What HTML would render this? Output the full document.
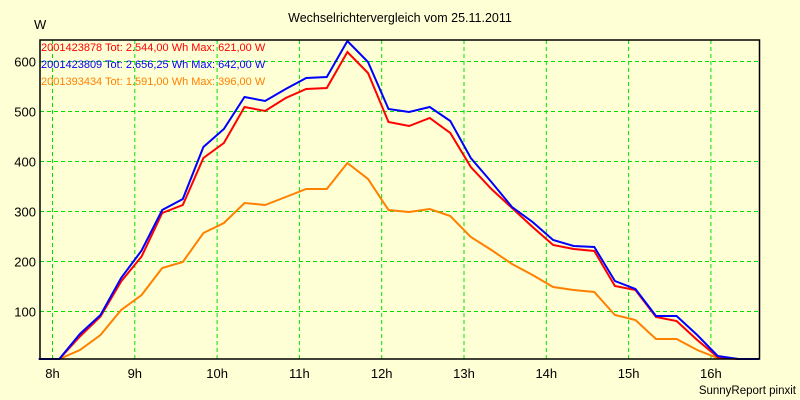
<!DOCTYPE html>
<html><head><meta charset="utf-8"><style>
body{margin:0;background:#ffffd6;}
svg{display:block;font-family:"Liberation Sans",sans-serif;}
</style></head><body>
<svg id="chart" width="800" height="400" viewBox="0 0 800 400">
<rect x="0" y="0" width="800" height="400" fill="#ffffd6"/>
<text x="400" y="22" text-anchor="middle" font-size="12.5" fill="#000">Wechselrichtervergleich vom 25.11.2011</text>
<text x="34" y="29" font-size="13" fill="#000">W</text>
<g id="grid"></g>
<g id="series"></g>
<rect x="40" y="40" width="719.5" height="319" fill="none" stroke="#000" stroke-width="1.5"/>
<g id="axes"></g>
<g font-size="11">
<text x="41" y="51" fill="#ff0000">2001423878 Tot: 2.544,00 Wh Max: 621,00 W</text>
<text x="41" y="68" fill="#0000ff">2001423809 Tot: 2.656,25 Wh Max: 642,00 W</text>
<text x="41" y="85" fill="#ff8000">2001393434 Tot: 1.591,00 Wh Max: 396,00 W</text>
</g>
<text x="796" y="394" text-anchor="end" font-size="11.5" fill="#000">SunnyReport pinxit</text>
</svg>
<script>
const startHour = 7.833;
const stepHours = 0.25;
const redValues = [3,5,50,90,160,210,297,313,407,437,509,501,527,545,547,619,577,479,471,487,457,389,345,307,269,233,225,221,151,143,89,81,43,9,3,3];
const blueValues = [3,5,55,93,167,222,303,325,429,465,529,521,545,567,569,641,599,505,499,509,481,407,359,309,279,243,231,229,161,145,91,91,53,11,5,5];
const orangeValues = [3,5,23,53,103,133,187,199,257,277,317,313,329,345,345,397,365,303,299,305,291,249,223,195,173,149,143,139,93,83,45,45,23,7,3,3];
const yTicks = [100,200,300,400,500,600];
const xTicks = [8,9,10,11,12,13,14,15,16];
const xTickLabels = ["8h","9h","10h","11h","12h","13h","14h","15h","16h"];

const NS = "http://www.w3.org/2000/svg";
function xScale(h){ return 52.5 + (h - 8) * 82.3; }
function yScale(v){ return 361.5 - v * 0.5; }
const grid = document.getElementById('grid');
const axes = document.getElementById('axes');
const series = document.getElementById('series');

yTicks.forEach(function(v){
  const l = document.createElementNS(NS,'line');
  
  
  l.setAttribute('x1',40); l.setAttribute('x2',759.5);
  l.setAttribute('y1',yScale(v)); l.setAttribute('y2',yScale(v));
  l.setAttribute('stroke','#00e000'); l.setAttribute('stroke-dasharray','4,3');
  grid.appendChild(l);
  const t = document.createElementNS(NS,'text');
  
  
  t.setAttribute('x',36); t.setAttribute('y',yScale(v)+5);
  t.setAttribute('text-anchor','end'); t.setAttribute('font-size','13');
  t.textContent = v;
  axes.appendChild(t);
});
xTicks.forEach(function(h,i){
  const l = document.createElementNS(NS,'line');
  
  
  l.setAttribute('x1',xScale(h)); l.setAttribute('x2',xScale(h));
  l.setAttribute('y1',40); l.setAttribute('y2',359);
  l.setAttribute('stroke','#00e000'); l.setAttribute('stroke-dasharray','4,3');
  grid.appendChild(l);
  const t = document.createElementNS(NS,'text');
  
  
  t.setAttribute('x',xScale(h)); t.setAttribute('y',378);
  t.setAttribute('text-anchor','middle'); t.setAttribute('font-size','13');
  t.textContent = xTickLabels[i];
  axes.appendChild(t);
});
function drawLine(vals,color,name){
  const pts = vals.map(function(v,k){ return xScale(startHour + k*stepHours).toFixed(1)+','+Math.min(yScale(v),359).toFixed(1); }).join(' ');
  const p = document.createElementNS(NS,'polyline');
  
  
  p.setAttribute('points',pts); p.setAttribute('fill','none');
  p.setAttribute('stroke',color); p.setAttribute('stroke-width','2');
  series.appendChild(p);
}
drawLine(orangeValues,'#ff8000','series-2001393434');
drawLine(redValues,'#ff0000','series-2001423878');
drawLine(blueValues,'#0000ff','series-2001423809');
</script>
</body></html>
